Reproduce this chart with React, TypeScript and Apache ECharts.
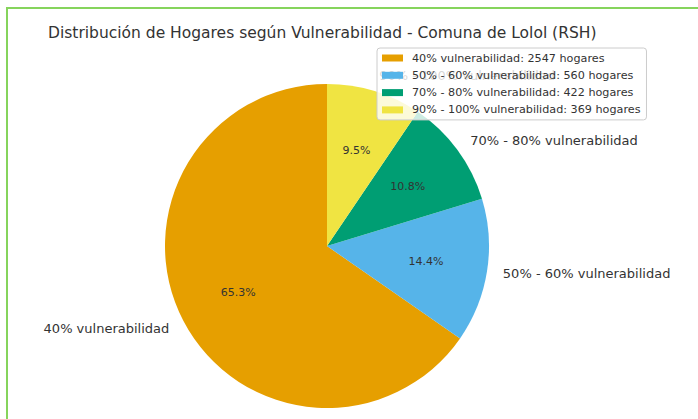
import React, { useEffect, useRef } from "react";
import * as echarts from "echarts";

const titleText = "Distribución de Hogares según Vulnerabilidad - Comuna de Lolol (RSH)";
const categories = [
  "40% vulnerabilidad",
  "50% - 60% vulnerabilidad",
  "70% - 80% vulnerabilidad",
  "90% - 100% vulnerabilidad",
];
const households = [2547, 560, 422, 369];
const sliceColors = ["#E69F00", "#56B4E9", "#009E73", "#F0E442"];

const FONT = "DejaVu Sans";

export default function App() {
  const ref = useRef<HTMLDivElement>(null);

  useEffect(() => {
    if (!ref.current) return;
    const chart = echarts.init(ref.current, null, { renderer: "svg" });
    const total = households.reduce((a, b) => a + b, 0);
    const data = categories.map((name, i) => ({
      name,
      value: households[i],
      itemStyle: { color: sliceColors[i] },
    }));
    const R = 162;
    const center = [327, 246];

    chart.setOption({
      animation: false,
      backgroundColor: "#ffffff",
      title: {
        text: titleText,
        left: 48,
        top: 25,
        padding: 0,
        textStyle: {
          fontFamily: FONT,
          fontSize: 15.5,
          fontWeight: "normal",
          color: "#333333",
        },
      },
      legend: {
        orient: "vertical",
        left: 377,
        top: 48,
        padding: [4, 6, 4, 5],
        itemGap: 5.3,
        itemWidth: 21,
        itemHeight: 7,
        icon: "rect",
        backgroundColor: "rgba(255,255,255,0.8)",
        borderColor: "#cccccc",
        borderWidth: 1,
        borderRadius: 3,
        data: categories,
        formatter: (name: string) => {
          const i = categories.indexOf(name);
          return `${name}: ${households[i]} hogares`;
        },
        textStyle: {
          fontFamily: FONT,
          fontSize: 11.2,
          lineHeight: 12,
          color: "#333333",
          padding: [0, 0, 0, 4],
        },
      },
      graphic: [
        {
          type: "rect",
          shape: { x: 7, y: 8, width: 1200, height: 1200 },
          style: { fill: "none", stroke: "#86d45c", lineWidth: 2 },
          silent: true,
          z: 0,
        },
      ],
      series: [
        {
          type: "pie",
          center,
          radius: [0, R],
          startAngle: 90,
          clockwise: false,
          avoidLabelOverlap: false,
          itemStyle: { borderWidth: 0 },
          emphasis: { disabled: true },
          data,
          label: {
            show: true,
            position: "outside",
            formatter: "{b}",
            fontFamily: FONT,
            fontSize: 13,
            color: "#333333",
            distanceToLabelLine: 0,
          },
          labelLine: { show: false, length: 16, length2: 0 },
          z: 2,
        },
        {
          type: "pie",
          center,
          radius: [R * 0.2, R],
          startAngle: 90,
          clockwise: false,
          avoidLabelOverlap: false,
          silent: true,
          emphasis: { disabled: true },
          itemStyle: { color: "rgba(0,0,0,0)", borderWidth: 0 },
          data: categories.map((name, i) => ({ name, value: households[i] })),
          label: {
            show: true,
            position: "inside",
            formatter: (p: any) => `${((p.value / total) * 100).toFixed(1)}%`,
            fontFamily: FONT,
            fontSize: 11,
            color: "#333333",
          },
          labelLine: { show: false },
          z: 3,
        },
      ],
    });

    return () => chart.dispose();
  }, []);

  return (
    <div
      ref={ref}
      style={{ position: "absolute", left: 0, top: 0, width: 698, height: 419 }}
    />
  );
}
